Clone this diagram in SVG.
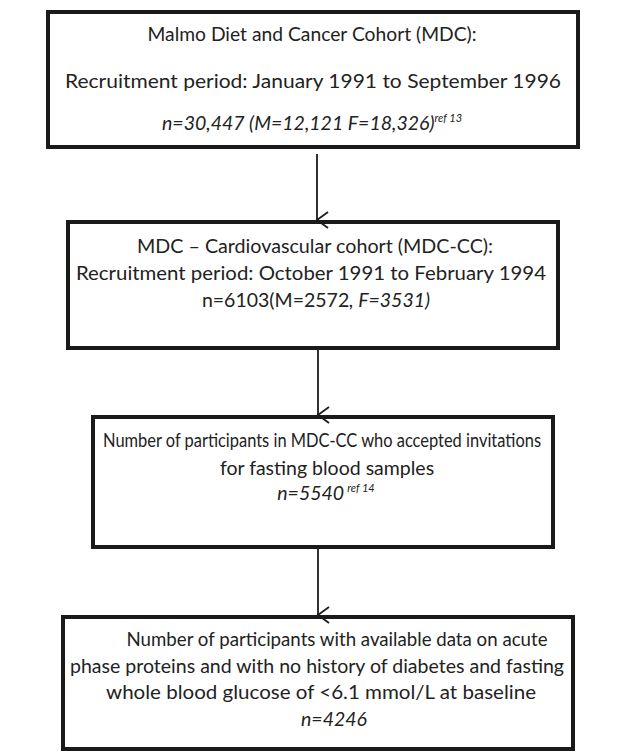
<svg xmlns="http://www.w3.org/2000/svg" width="624" height="754" viewBox="0 0 624 754">
<style>
.box{fill:#fff;stroke:#1a1a1a;stroke-width:4}
.t{font-family:Lato,"Open Sans",sans-serif;font-size:19.5px;fill:#222;text-anchor:middle}
.i{font-style:italic}
.s{font-size:11px}
.c{stroke:#1a1a1a;stroke-width:1.8;fill:none}
</style>
<defs>
<marker id="ah" markerWidth="20" markerHeight="16" refX="10" refY="13" orient="auto-start-reverse" markerUnits="userSpaceOnUse" viewBox="0 0 20 16">
<path d="M2,2 L10,13 L18,2" fill="none" stroke="#1a1a1a" stroke-width="1.8"/>
</marker>
</defs>
<rect width="624" height="754" fill="#fff"/>
<g id="n1">
<rect class="box" x="48" y="12" width="530" height="135"/>
<text class="t" x="312" y="41" textLength="329" lengthAdjust="spacingAndGlyphs">Malmo Diet and Cancer Cohort (MDC):</text>
<text class="t" x="313" y="88" textLength="496" lengthAdjust="spacingAndGlyphs">Recruitment period: January 1991 to September 1996</text>
<text class="t i" x="312" y="130" font-size="20">n=30,447 (M=12,121 F=18,326)<tspan class="s" dy="-8">ref 13</tspan></text>
</g>
<g id="n2">
<rect class="box" x="68" y="222" width="490" height="126"/>
<text class="t" x="315" y="253" textLength="356" lengthAdjust="spacingAndGlyphs">MDC – Cardiovascular cohort (MDC-CC):</text>
<text class="t" x="311" y="280" textLength="470" lengthAdjust="spacingAndGlyphs">Recruitment period: October 1991 to February 1994</text>
<text class="t" x="316" y="307">n=6103(M=2572<tspan class="i">, F=3531)</tspan></text>
</g>
<g id="n3">
<rect class="box" x="93" y="417" width="460" height="130"/>
<text class="t" x="322" y="447" font-size="18.5" textLength="438" lengthAdjust="spacingAndGlyphs">Number of participants in MDC-CC who accepted invitations</text>
<text class="t" x="327" y="475" font-size="19">for fasting blood samples</text>
<text class="t i" x="326" y="500">n=5540<tspan class="s" dx="3" dy="-8">ref 14</tspan></text>
</g>
<g id="n4">
<rect class="box" x="63" y="617" width="510" height="132"/>
<text class="t" x="337" y="646" textLength="421" lengthAdjust="spacingAndGlyphs">Number of participants with available data on acute</text>
<text class="t" x="317" y="673" textLength="494" lengthAdjust="spacingAndGlyphs">phase proteins and with no history of diabetes and fasting</text>
<text class="t" x="321" y="699" textLength="430" lengthAdjust="spacingAndGlyphs">whole blood glucose of &lt;6.1 mmol/L at baseline</text>
<text class="t i" x="334" y="726">n=4246</text>
</g>
<g id="connectors">
<line class="c" x1="317" y1="154" x2="317" y2="220" marker-end="url(#ah)"/>
<line class="c" x1="318" y1="350" x2="318" y2="415" marker-end="url(#ah)"/>
<line class="c" x1="318" y1="549" x2="318" y2="615" marker-end="url(#ah)"/>
</g>
</svg>
